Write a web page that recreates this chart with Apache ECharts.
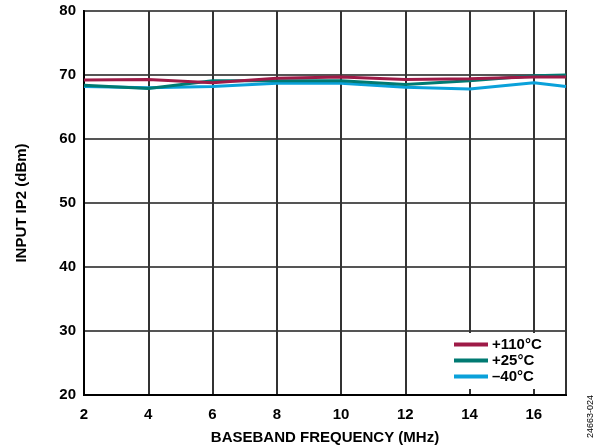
<!DOCTYPE html>
<html>
<head>
<meta charset="utf-8">
<script src="https://cdn.jsdelivr.net/npm/echarts@6/dist/echarts.min.js"></script>
<style>
html,body{margin:0;padding:0;background:#fff;}
#chart{width:602px;height:448px;}
</style>
</head>
<body>
<div id="chart"></div>
<script>
const freqMHz = [2, 4, 6, 8, 10, 12, 14, 16, 17];
const ip2_110C = [69.2, 69.3, 68.8, 69.5, 69.7, 69.3, 69.4, 69.7, 69.7];
const ip2_25C  = [68.4, 67.9, 69.1, 69.1, 69.1, 68.5, 69.1, 69.9, 70.0];
const ip2_m40C = [68.2, 68.0, 68.2, 68.7, 68.7, 68.1, 67.8, 68.8, 68.2];
const seriesNames = ['+110°C', '+25°C', '\u201340°C'];
const seriesColors = ['#9E1B47', '#007A72', '#0AA1DA'];

const pairs = arr => freqMHz.map((f, i) => [f, arr[i]]);
const allData = [ip2_110C, ip2_25C, ip2_m40C];

const chart = echarts.init(document.getElementById('chart'), null, {renderer: 'canvas'});
const font = 'Arial, "Liberation Sans", sans-serif';

chart.setOption({
  animation: false,
  backgroundColor: '#fff',
  grid: {left: 84, right: 36, top: 11, bottom: 53, show: true, borderColor: '#000', borderWidth: 2,
         containLabel: false, outerBoundsMode: 'none'},
  xAxis: {
    type: 'value', min: 2, max: 17, interval: 2,
    name: 'BASEBAND FREQUENCY (MHz)', nameLocation: 'middle', nameGap: 35,
    nameTextStyle: {fontFamily: font, fontWeight: 'bold', fontSize: 15, color: '#000'},
    axisLine: {show: true, lineStyle: {color: '#000', width: 2}},
    axisTick: {show: false},
    axisLabel: {fontFamily: font, fontWeight: 'bold', fontSize: 15, color: '#000', margin: 12, showMaxLabel: false},
    splitLine: {show: true, lineStyle: {color: '#333', width: 2}}
  },
  yAxis: {
    type: 'value', min: 20, max: 80, interval: 10,
    name: 'INPUT IP2 (dBm)', nameLocation: 'middle', nameGap: 55, nameRotate: 90,
    nameTextStyle: {fontFamily: font, fontWeight: 'bold', fontSize: 15, color: '#000'},
    axisLine: {show: true, lineStyle: {color: '#000', width: 2}},
    axisTick: {show: false},
    axisLabel: {fontFamily: font, fontWeight: 'bold', fontSize: 15, color: '#000', margin: 8},
    splitLine: {show: true, lineStyle: {color: '#555', width: 2}}
  },
  legend: {
    orient: 'vertical', left: 450, top: 333,
    backgroundColor: '#fff', padding: [4, 4, 5, 4],
    itemWidth: 34, itemHeight: 4, itemGap: 1, icon: 'rect',
    textStyle: {fontFamily: font, fontWeight: 'bold', fontSize: 15, color: '#000', padding: [0, 0, 0, -1]},
    data: seriesNames
  },
  series: allData.map((arr, i) => ({
    name: seriesNames[i], type: 'line', data: pairs(arr),
    showSymbol: false, symbol: 'none', z: 3 - i + 2,
    lineStyle: {color: seriesColors[i], width: 3},
    itemStyle: {color: seriesColors[i]}
  })),
  graphic: [{
    type: 'text', left: 586, top: 395, rotation: Math.PI / 2,
    style: {text: '24663-024', fontFamily: font, fontSize: 9, fill: '#000'}
  }]
});
</script>
</body>
</html>
